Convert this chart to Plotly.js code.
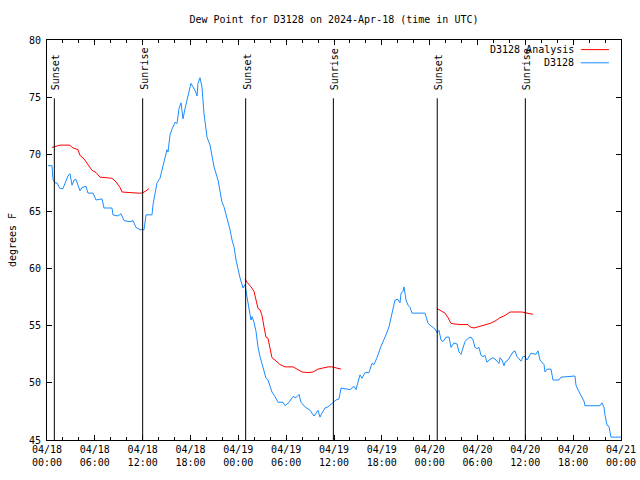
<!DOCTYPE html>
<html>
<head>
<meta charset="utf-8">
<script src="https://cdn.plot.ly/plotly-3.0.1.min.js"></script>
<style>html,body{margin:0;padding:0;background:#fff;}#chart{width:640px;height:480px;}</style>
</head>
<body>
<div id="chart"></div>
<script>
// hours since 2024-04-18 00:00 UTC
const obsHours = [0.12,0.63,0.75,1.0,1.25,1.63,2.0,2.63,2.88,3.14,3.39,3.64,4.14,4.39,4.89,5.14,5.77,6.15,6.9,7.15,8.15,8.28,8.9,9.28,9.66,10.41,10.79,11.16,11.67,12.17,12.42,13.17,13.3,13.55,13.8,14.17,14.55,14.8,15.05,15.18,15.43,15.68,16.06,16.31,16.56,16.81,17.06,17.31,17.69,18.06,18.31,18.56,18.82,18.94,19.19,19.44,19.69,20.07,20.45,20.7,20.95,21.45,21.7,21.95,22.2,22.58,22.96,23.21,23.46,23.71,23.96,24.21,24.59,24.84,25.09,25.34,25.59,25.71,25.97,26.22,26.47,26.72,27.09,27.47,27.72,27.97,28.22,28.6,28.98,29.6,29.86,30.36,30.86,31.23,31.61,31.86,32.36,32.99,33.49,33.99,34.24,34.49,34.87,35.25,35.87,36.25,36.63,36.88,38.01,38.51,38.76,39.26,39.51,39.89,40.39,40.77,41.02,41.39,41.9,42.27,42.52,42.9,43.28,43.65,44.03,44.28,44.41,44.66,44.78,45.03,45.29,45.54,45.79,47.42,47.8,48.29,48.67,48.92,49.17,49.42,49.67,50.05,50.43,50.68,51.05,51.43,51.68,51.93,52.18,52.43,52.81,53.19,53.44,53.69,53.94,54.19,54.44,54.69,54.94,55.19,55.44,55.94,56.32,56.7,56.82,57.07,57.33,57.45,57.83,58.2,58.45,58.7,58.96,59.33,59.46,59.71,59.96,60.21,60.46,60.71,61.34,61.59,61.84,62.09,62.34,62.47,62.72,63.22,63.47,64.22,64.47,66.23,66.35,66.6,66.85,67.11,67.36,67.48,69.36,69.61,69.86,69.99,70.12,70.24,70.49,70.62,70.74,72.0];
const obsDew = [69.0,69.0,67.8,67.5,67.5,67.0,67.0,68.1,68.3,67.3,67.75,67.8,66.8,67.1,67.2,66.6,66.6,66.0,66.1,65.3,65.3,64.7,64.6,64.8,64.2,64.1,64.2,63.6,63.4,63.4,64.7,64.7,65.6,66.6,67.5,67.9,68.9,69.8,70.4,70.2,71.7,72.2,72.8,72.7,74.0,74.5,73.1,74.0,75.0,76.2,75.9,75.6,75.1,76.2,76.7,75.9,73.6,71.5,70.8,69.9,68.9,67.75,66.9,65.8,65.4,64.5,63.4,62.5,61.9,60.75,59.9,59.2,58.3,58.6,57.5,56.4,55.5,55.8,55.3,54.5,53.1,52.3,51.4,50.4,50.25,49.6,49.2,48.8,48.3,48.3,48.0,48.3,48.8,48.7,49.0,48.3,47.9,47.6,47.1,47.6,47.0,47.35,47.8,47.9,48.3,48.5,48.6,49.55,49.4,49.7,49.4,50.7,50.4,50.9,50.9,51.7,51.6,52.2,53.2,53.9,54.2,54.9,56.1,57.25,57.3,57.0,57.85,58.0,58.4,57.25,56.8,56.6,56.1,56.1,55.2,54.9,54.7,54.4,54.6,53.75,53.6,54.0,54.0,53.1,53.5,53.4,52.7,52.5,53.1,53.6,53.9,54.0,53.75,53.1,53.0,53.1,52.4,52.3,52.4,51.8,52.0,52.2,52.0,51.7,52.2,52.0,51.5,51.8,52.0,52.4,52.7,52.8,52.3,52.0,51.9,52.3,52.3,52.0,52.35,52.6,52.5,52.8,52.0,51.8,51.6,50.95,51.2,51.2,50.25,50.25,50.5,50.6,49.8,49.4,49.1,48.7,48.4,48.0,48.0,48.25,47.9,47.2,46.75,46.3,46.2,45.6,45.25,45.25];

const anaHours = [0.63,1.13,1.63,2.88,3.14,3.89,4.14,4.64,5.14,5.64,6.15,6.65,8.15,8.65,9.16,9.41,11.41,11.92,12.42,12.79,
  18.0,
  24.84,25.09,25.59,25.97,26.22,26.47,26.72,26.97,27.22,27.47,27.72,27.97,28.22,28.6,29.23,29.86,30.86,31.36,31.99,32.74,33.37,33.99,34.49,35.25,35.75,36.25,36.88,
  42.0,
  48.92,49.42,49.92,50.3,50.68,51.18,51.81,52.81,53.06,53.56,54.07,54.94,55.57,56.19,56.82,57.45,58.08,58.7,59.58,60.21,60.96];
const anaDew = [70.6,70.7,70.8,70.8,70.6,70.4,69.9,69.6,69.1,68.6,68.4,68.0,67.9,67.6,67.1,66.7,66.6,66.6,66.8,67.0,
  null,
  59.1,58.8,58.4,58.0,57.25,56.5,56.4,55.9,54.9,54.0,53.9,53.1,52.2,52.0,51.6,51.4,51.4,51.2,50.95,50.9,50.95,51.2,51.3,51.4,51.4,51.3,51.2,
  null,
  56.5,56.3,56.1,55.7,55.2,55.15,55.1,55.1,54.9,54.8,54.9,55.1,55.2,55.4,55.7,55.9,56.2,56.2,56.2,56.1,56.0];

const sunHours = [0.92, 12.0, 24.92, 35.92, 48.95, 60.0];
const sunLabels = ['Sunset','Sunrise','Sunset','Sunrise','Sunset','Sunrise'];

const seriesNames = ['D3128 Analysis', 'D3128'];
const seriesColors = ['#ff0000', '#1a8cff'];

const BASE = Date.UTC(2024, 3, 18, 0, 0, 0);
const H = 3600000;
const toT = h => BASE + h * H;

const FONT = 'DejaVu Sans Mono, monospace';

const traces = [
  {x: anaHours.map(toT), y: anaDew, type: 'scatter', mode: 'lines', name: seriesNames[0],
   line: {color: seriesColors[0], width: 1}, connectgaps: false, showlegend: false},
  {x: obsHours.map(toT), y: obsDew, type: 'scatter', mode: 'lines', name: seriesNames[1],
   line: {color: seriesColors[1], width: 1}, showlegend: false}
];

const shapes = sunHours.map(h => ({
  type: 'line', xref: 'x', yref: 'y', x0: toT(h), x1: toT(h), y0: 45, y1: 74.9,
  line: {color: '#000', width: 1}
}));
const annotations = sunHours.map((h, i) => ({
  xref: 'x', yref: 'y', x: toT(h), y: 75.45, text: sunLabels[i], textangle: -90,
  xanchor: 'center', yanchor: 'bottom', showarrow: false, xshift: 1,
  font: {family: FONT, size: 10, color: '#000'}
}));

// gnuplot-style legend: text right-aligned, line sample on the right
const legY = [0.976, 0.943];
seriesNames.forEach((nm, i) => {
  annotations.push({xref: 'paper', yref: 'paper', x: 0.922, y: legY[i], text: nm,
    xanchor: 'right', yanchor: 'middle', showarrow: false,
    font: {family: FONT, size: 10, color: '#000'}});
  shapes.push({type: 'line', xref: 'paper', yref: 'paper', x0: 0.930, x1: 0.979,
    y0: legY[i], y1: legY[i], line: {color: seriesColors[i], width: 1}});
});

const layout = {
  width: 640, height: 480,
  margin: {l: 47, r: 19, t: 40, b: 40},
  paper_bgcolor: '#fff', plot_bgcolor: '#fff',
  font: {family: FONT, size: 10, color: '#000'},
  title: {text: 'Dew Point for D3128 on 2024-Apr-18 (time in UTC)', x: 0.5, xref: 'paper',
          y: 0.96, yref: 'container', yanchor: 'middle', font: {family: FONT, size: 10, color: '#000'}},
  xaxis: {
    type: 'date', range: [toT(0), toT(72)], tick0: toT(0), dtick: 6 * H,
    tickformat: '%m/%d<br>%H:%M', ticks: 'inside', ticklen: 5, tickcolor: '#000',
    showline: true, linecolor: '#000', linewidth: 1, mirror: 'allticks', showgrid: false, zeroline: false,
    minor: {dtick: 2 * H, ticks: 'inside', ticklen: 3, tickcolor: '#000', showgrid: false},
    tickfont: {family: FONT, size: 10, color: '#000'}, fixedrange: true
  },
  yaxis: {
    range: [45, 80], dtick: 5, ticks: 'inside', ticklen: 5, tickcolor: '#000',
    showline: true, linecolor: '#000', linewidth: 1, mirror: 'allticks', showgrid: false, zeroline: false,
    title: {text: 'degrees F', standoff: 10, font: {family: FONT, size: 10, color: '#000'}},
    tickfont: {family: FONT, size: 10, color: '#000'}, ticklabelstandoff: 3, fixedrange: true
  },
  shapes: shapes,
  annotations: annotations,
  showlegend: false
};

Plotly.newPlot('chart', traces, layout, {displayModeBar: false, staticPlot: true});
</script>
</body>
</html>
